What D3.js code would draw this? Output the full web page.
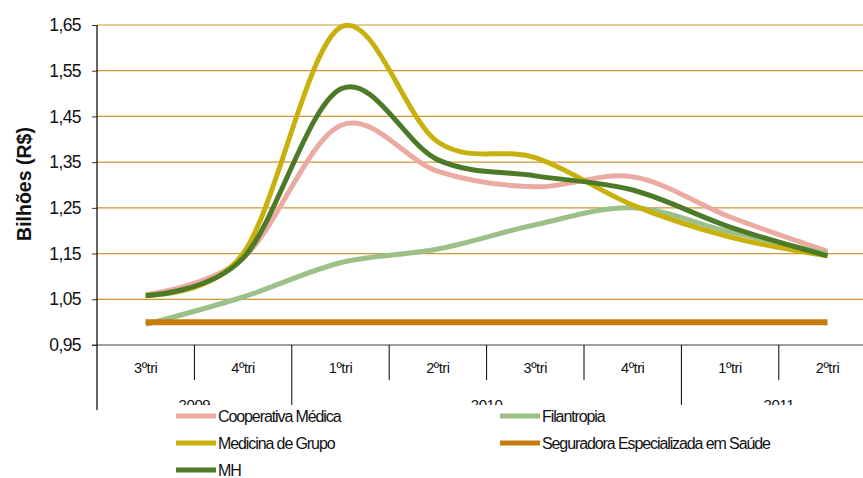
<!DOCTYPE html>
<html><head><meta charset="utf-8">
<script src="https://cdn.jsdelivr.net/npm/d3@7"></script>
<style>body{margin:0;background:#fff}svg{display:block;font-family:"Liberation Sans",Arial,sans-serif}</style>
</head><body><svg id="c" width="863" height="478"></svg>
<script>
const quarters = ["3ºtri","4ºtri","1ºtri","2ºtri","3ºtri","4ºtri","1ºtri","2ºtri"];
const years = ["2009","2010","2011"];
const yearSpans = [2,4,2];
const yTicks = [0.95,1.05,1.15,1.25,1.35,1.45,1.55,1.65];
const seriesNames = ["Cooperativa Médica","Filantropia","Medicina de Grupo","Seguradora Especializada em Saúde","MH"];
const cooperativa = [1.06,1.14,1.43,1.33,1.296,1.318,1.23,1.155];
const filantropia = [0.995,1.055,1.13,1.16,1.213,1.25,1.197,1.15];
const medicina = [1.06,1.15,1.645,1.394,1.36,1.256,1.186,1.145];
const seguradora = [1.0,1.0,1.0,1.0,1.0,1.0,1.0,1.0];
const mh = [1.058,1.14,1.51,1.355,1.32,1.289,1.208,1.145];
const colors = ["#EBABA3","#9CC088","#C8B10C","#C67C0B","#4D7A27"];
const seriesData = [cooperativa, filantropia, medicina, seguradora, mh];

const svg = d3.select("#c");
const left = 97, bandW = 97.4;
const x = d3.scaleBand().domain(d3.range(quarters.length)).range([left, left + bandW*quarters.length]);
const y = d3.scaleLinear().domain([0.95,1.65]).range([345,25]);
const cx = i => x(i) + x.bandwidth()/2;

// gridlines
svg.append("g").selectAll("line").data(yTicks.slice(1)).join("line")
  .attr("x1", left).attr("x2", 863).attr("y1", d=>y(d)).attr("y2", d=>y(d))
  .attr("stroke", "#CE9636").attr("stroke-width", 1.2);

// x axis line
svg.append("line").attr("x1", left-5).attr("x2", 863).attr("y1", y(0.95)).attr("y2", y(0.95))
  .attr("stroke", "#7f7f7f").attr("stroke-width", 1.5);

// y axis
const yAxis = d3.axisLeft(y).tickValues(yTicks).tickSize(5).tickFormat(d => d3.format(".2f")(d).replace(".", ","));
const ya = svg.append("g").attr("transform", `translate(${left},0)`).call(yAxis);
ya.select(".domain").remove();
ya.selectAll(".tick line").attr("stroke", "#333");
ya.selectAll(".tick text").attr("font-size", 17.5).attr("fill", "#111").attr("x", -16)
  .attr("font-family", '"Liberation Sans",Arial,sans-serif').attr("letter-spacing", "-0.6");
svg.append("line").attr("x1", left).attr("x2", left).attr("y1", y(1.65)).attr("y2", 410)
  .attr("stroke", "#000").attr("stroke-width", 1.2);

// category separators
const yearBounds = [];
let acc = 0; yearSpans.forEach(s => { acc += s; yearBounds.push(acc); });
d3.range(1, quarters.length).forEach(i => {
  const long = yearBounds.includes(i);
  svg.append("line").attr("x1", x(i)).attr("x2", x(i)).attr("y1", y(0.95)).attr("y2", long ? 410 : 380)
    .attr("stroke", "#000").attr("stroke-width", 1);
});
// quarter labels
svg.append("g").selectAll("text").data(quarters).join("text")
  .attr("x", (d,i)=>cx(i)).attr("y", 373).attr("text-anchor","middle")
  .attr("font-size", 14.5).attr("letter-spacing","-0.4").attr("fill","#111").text(d=>d);
// year labels
let start = 0;
years.forEach((yr, k) => {
  const s = start, e = start + yearSpans[k];
  const xm = (x(s) + x(e-1) + x.bandwidth())/2;
  svg.append("text").attr("x", xm).attr("y", 410).attr("text-anchor","middle")
    .attr("font-size", 15).attr("letter-spacing","-0.4").attr("fill","#111").text(yr);
  start = e;
});

// lines
const line = d3.line().x((d,i)=>cx(i)).y(d=>y(d)).curve(d3.curveCatmullRom.alpha(0));
seriesData.forEach((vals, k) => {
  svg.append("path").datum(vals).attr("d", line).attr("fill","none")
    .attr("stroke", colors[k]).attr("stroke-width", k===3 ? 6 : 5).attr("stroke-linecap","butt");
});

// legend
svg.append("rect").attr("x", 165).attr("y", 405).attr("width", 698).attr("height", 73).attr("fill", "#fff");
const legPos = [[176,416],[500,416],[176,443],[500,443],[176,470]];
seriesNames.forEach((n,k) => {
  const [lx, ly] = legPos[k];
  svg.append("line").attr("x1", lx).attr("x2", lx+40).attr("y1", ly).attr("y2", ly)
    .attr("stroke", colors[k]).attr("stroke-width", 5);
  svg.append("text").attr("x", lx+42).attr("y", ly+6).attr("font-size", 16)
    .attr("letter-spacing","-1.1").attr("fill","#111").text(n);
});

// y title
svg.append("text").attr("transform","translate(31,184) rotate(-90)").attr("text-anchor","middle")
  .attr("font-size", 19.5).attr("font-weight","bold").attr("fill","#111").text("Bilhões (R$)");
</script></body></html>
